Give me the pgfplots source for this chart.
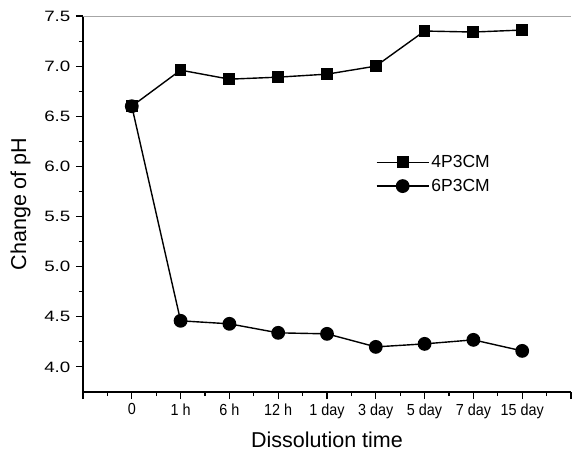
\documentclass[border=0pt]{standalone}
\usepackage{pgfplots}
\pgfplotsset{compat=1.18}
\usepackage{fontspec}
\setmainfont{Liberation Sans}

\begin{document}
\begin{tikzpicture}[x=1bp,y=1bp]
\begin{axis}[
  at={(0,0)}, anchor=south west,
  scale only axis,
  width=488bp, height=376bp,
  xmin=-1, xmax=9,
  ymin=3.75, ymax=7.5,
  axis x line*=bottom,
  axis y line*=left,
  axis line style={line width=1.3bp, -},
  tick align=outside,
  major tick length=7bp,
  minor tick length=4bp,
  tick style={line width=1.1bp, black},
  xtick={-1,0,...,9},
  xticklabels={,0,1 h,6 h,12 h,1 day,3 day,5 day,7 day,15 day,},
  minor x tick num=1,
  ytick={4,4.5,...,7.5},
  minor y tick num=1,
  /pgf/number format/assume math mode=true,
  xticklabel style={font=\fontsize{16bp}{19bp}\selectfont, xscale=0.9, yshift=-1bp},
  yticklabel style={font=\fontsize{15bp}{18bp}\selectfont, xscale=1.25, xshift=-1bp,
    /pgf/number format/fixed, /pgf/number format/fixed zerofill,
    /pgf/number format/precision=1},
  xlabel={Dissolution time},
  ylabel={Change of pH},
  label style={font=\fontsize{21.5bp}{25bp}\selectfont},
  xlabel style={yshift=-7bp},
  ylabel style={yshift=6bp},
  legend style={
    at={(rel axis cs:0.6,0.64)}, anchor=north west,
    draw=none, fill=none,
    font=\fontsize{17.5bp}{20bp}\selectfont,
    row sep=6bp,
    inner xsep=0bp,
  },
  legend cell align=left,
  legend image code/.code={
    \draw[mark repeat=2,mark phase=2,#1]
      plot coordinates {(0bp,0bp) (26bp,0bp) (52bp,0bp)};
  },
]
% top and right frame lines
\draw[gray!70, line width=0.8bp] (rel axis cs:0,1) -- (rel axis cs:1,1) -- (rel axis cs:1,0);

\addplot[black, line width=1.4bp, mark=square*, mark size=5.2bp] coordinates {
  (0,6.60) (1,6.96) (2,6.87) (3,6.89) (4,6.92) (5,7.00) (6,7.35) (7,7.34) (8,7.36)
};
\addlegendentry{4P3CM}
\addplot[black, line width=1.4bp, mark=*, mark size=6.2bp] coordinates {
  (0,6.60) (1,4.46) (2,4.43) (3,4.34) (4,4.33) (5,4.20) (6,4.23) (7,4.27) (8,4.16)
};
\addlegendentry{6P3CM}
\end{axis}
\pgfresetboundingbox
\useasboundingbox (-83bp,-67bp) rectangle (489bp,392bp);
\end{tikzpicture}
\end{document}
